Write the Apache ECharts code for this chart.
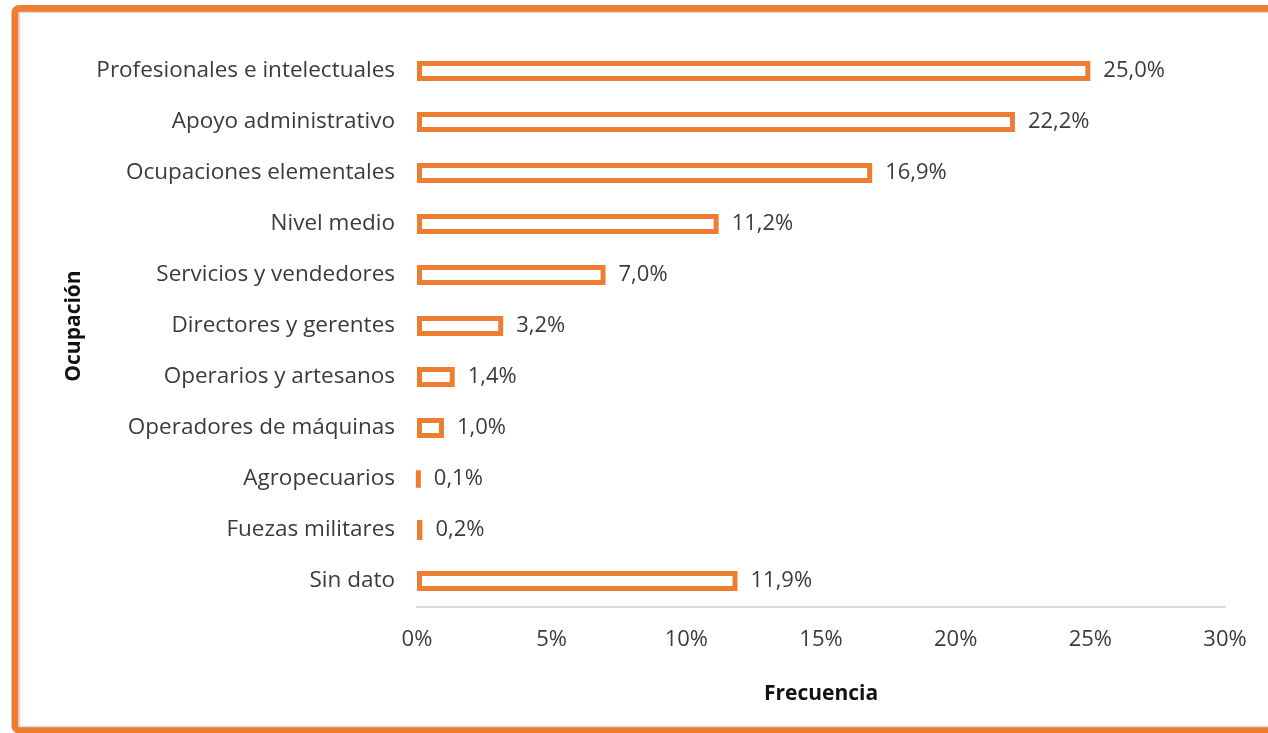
<!DOCTYPE html>
<html>
<head>
<meta charset="utf-8">
<script src="https://cdn.jsdelivr.net/npm/echarts@6/dist/echarts.min.js"></script>
<style>
  html, body { margin: 0; padding: 0; background: #fff; }
  #chart { width: 1268px; height: 733px; }
</style>
</head>
<body>
<div id="chart"></div>
<script>
const categories = [
  'Profesionales e intelectuales',
  'Apoyo administrativo',
  'Ocupaciones elementales',
  'Nivel medio',
  'Servicios y vendedores',
  'Directores y gerentes',
  'Operarios y artesanos',
  'Operadores de máquinas',
  'Agropecuarios',
  'Fuezas militares',
  'Sin dato'
]
const values = [25.0, 22.2, 16.9, 11.2, 7.0, 3.2, 1.4, 1.0, 0.1, 0.2, 11.9]
const xTicks = [0, 5, 10, 15, 20, 25, 30]

const orange = '#ED7D31'
const textColor = '#3b3b3b'
const font = 'Open Sans'

const chart = echarts.init(document.getElementById('chart'))

const option = {
  animation: false,
  backgroundColor: '#fff',
  textStyle: { fontFamily: font },
  grid: {
    left: 417,
    right: 43,
    top: 45.5,
    bottom: 126.5,
    containLabel: false
  },
  xAxis: {
    type: 'value',
    min: xTicks[0],
    max: xTicks[xTicks.length - 1],
    interval: 5,
    name: 'Frecuencia',
    nameLocation: 'middle',
    nameGap: 77,
    nameTextStyle: { fontFamily: font, fontSize: 21, fontWeight: 'bold', color: '#111' },
    axisLine: { show: true, lineStyle: { color: '#d9d9d9', width: 2 } },
    axisTick: { show: false },
    splitLine: { show: false },
    axisLabel: {
      margin: 22,
      fontFamily: font,
      fontSize: 22,
      color: textColor,
      formatter: '{value}%'
    }
  },
  yAxis: {
    type: 'category',
    inverse: true,
    data: categories,
    name: 'Ocupación',
    nameLocation: 'middle',
    nameGap: 332,
    nameRotate: 90,
    nameTextStyle: { fontFamily: font, fontSize: 21, fontWeight: 'bold', color: '#111' },
    axisLine: { show: false },
    axisTick: { show: false },
    axisLabel: {
      margin: 22,
      fontFamily: font,
      fontSize: 22.5,
      color: textColor,
      padding: [3, 0, 0, 0]
    }
  },
  series: [
    {
      type: 'bar',
      data: values,
      barWidth: 20,
      itemStyle: {
        color: '#fff',
        borderColor: orange,
        borderWidth: 5
      },
      label: {
        show: true,
        position: 'right',
        distance: 13,
        fontFamily: font,
        fontSize: 22,
        color: textColor,
        formatter: (p) => p.value.toFixed(1).replace('.', ',') + '%'
      }
    }
  ],
  graphic: [
    {
      type: 'rect',
      silent: true,
      shape: { x: 15, y: 8.5, width: 1300, height: 721.5, r: 4 },
      style: { fill: 'none', stroke: orange, lineWidth: 7 }
    },
    {
      type: 'rect',
      silent: true,
      shape: { x: 19.5, y: 12.5, width: 1300, height: 714 },
      style: { fill: 'none', stroke: '#dcdcdc', lineWidth: 1.5 }
    }
  ]
}

chart.setOption(option)
</script>
</body>
</html>
